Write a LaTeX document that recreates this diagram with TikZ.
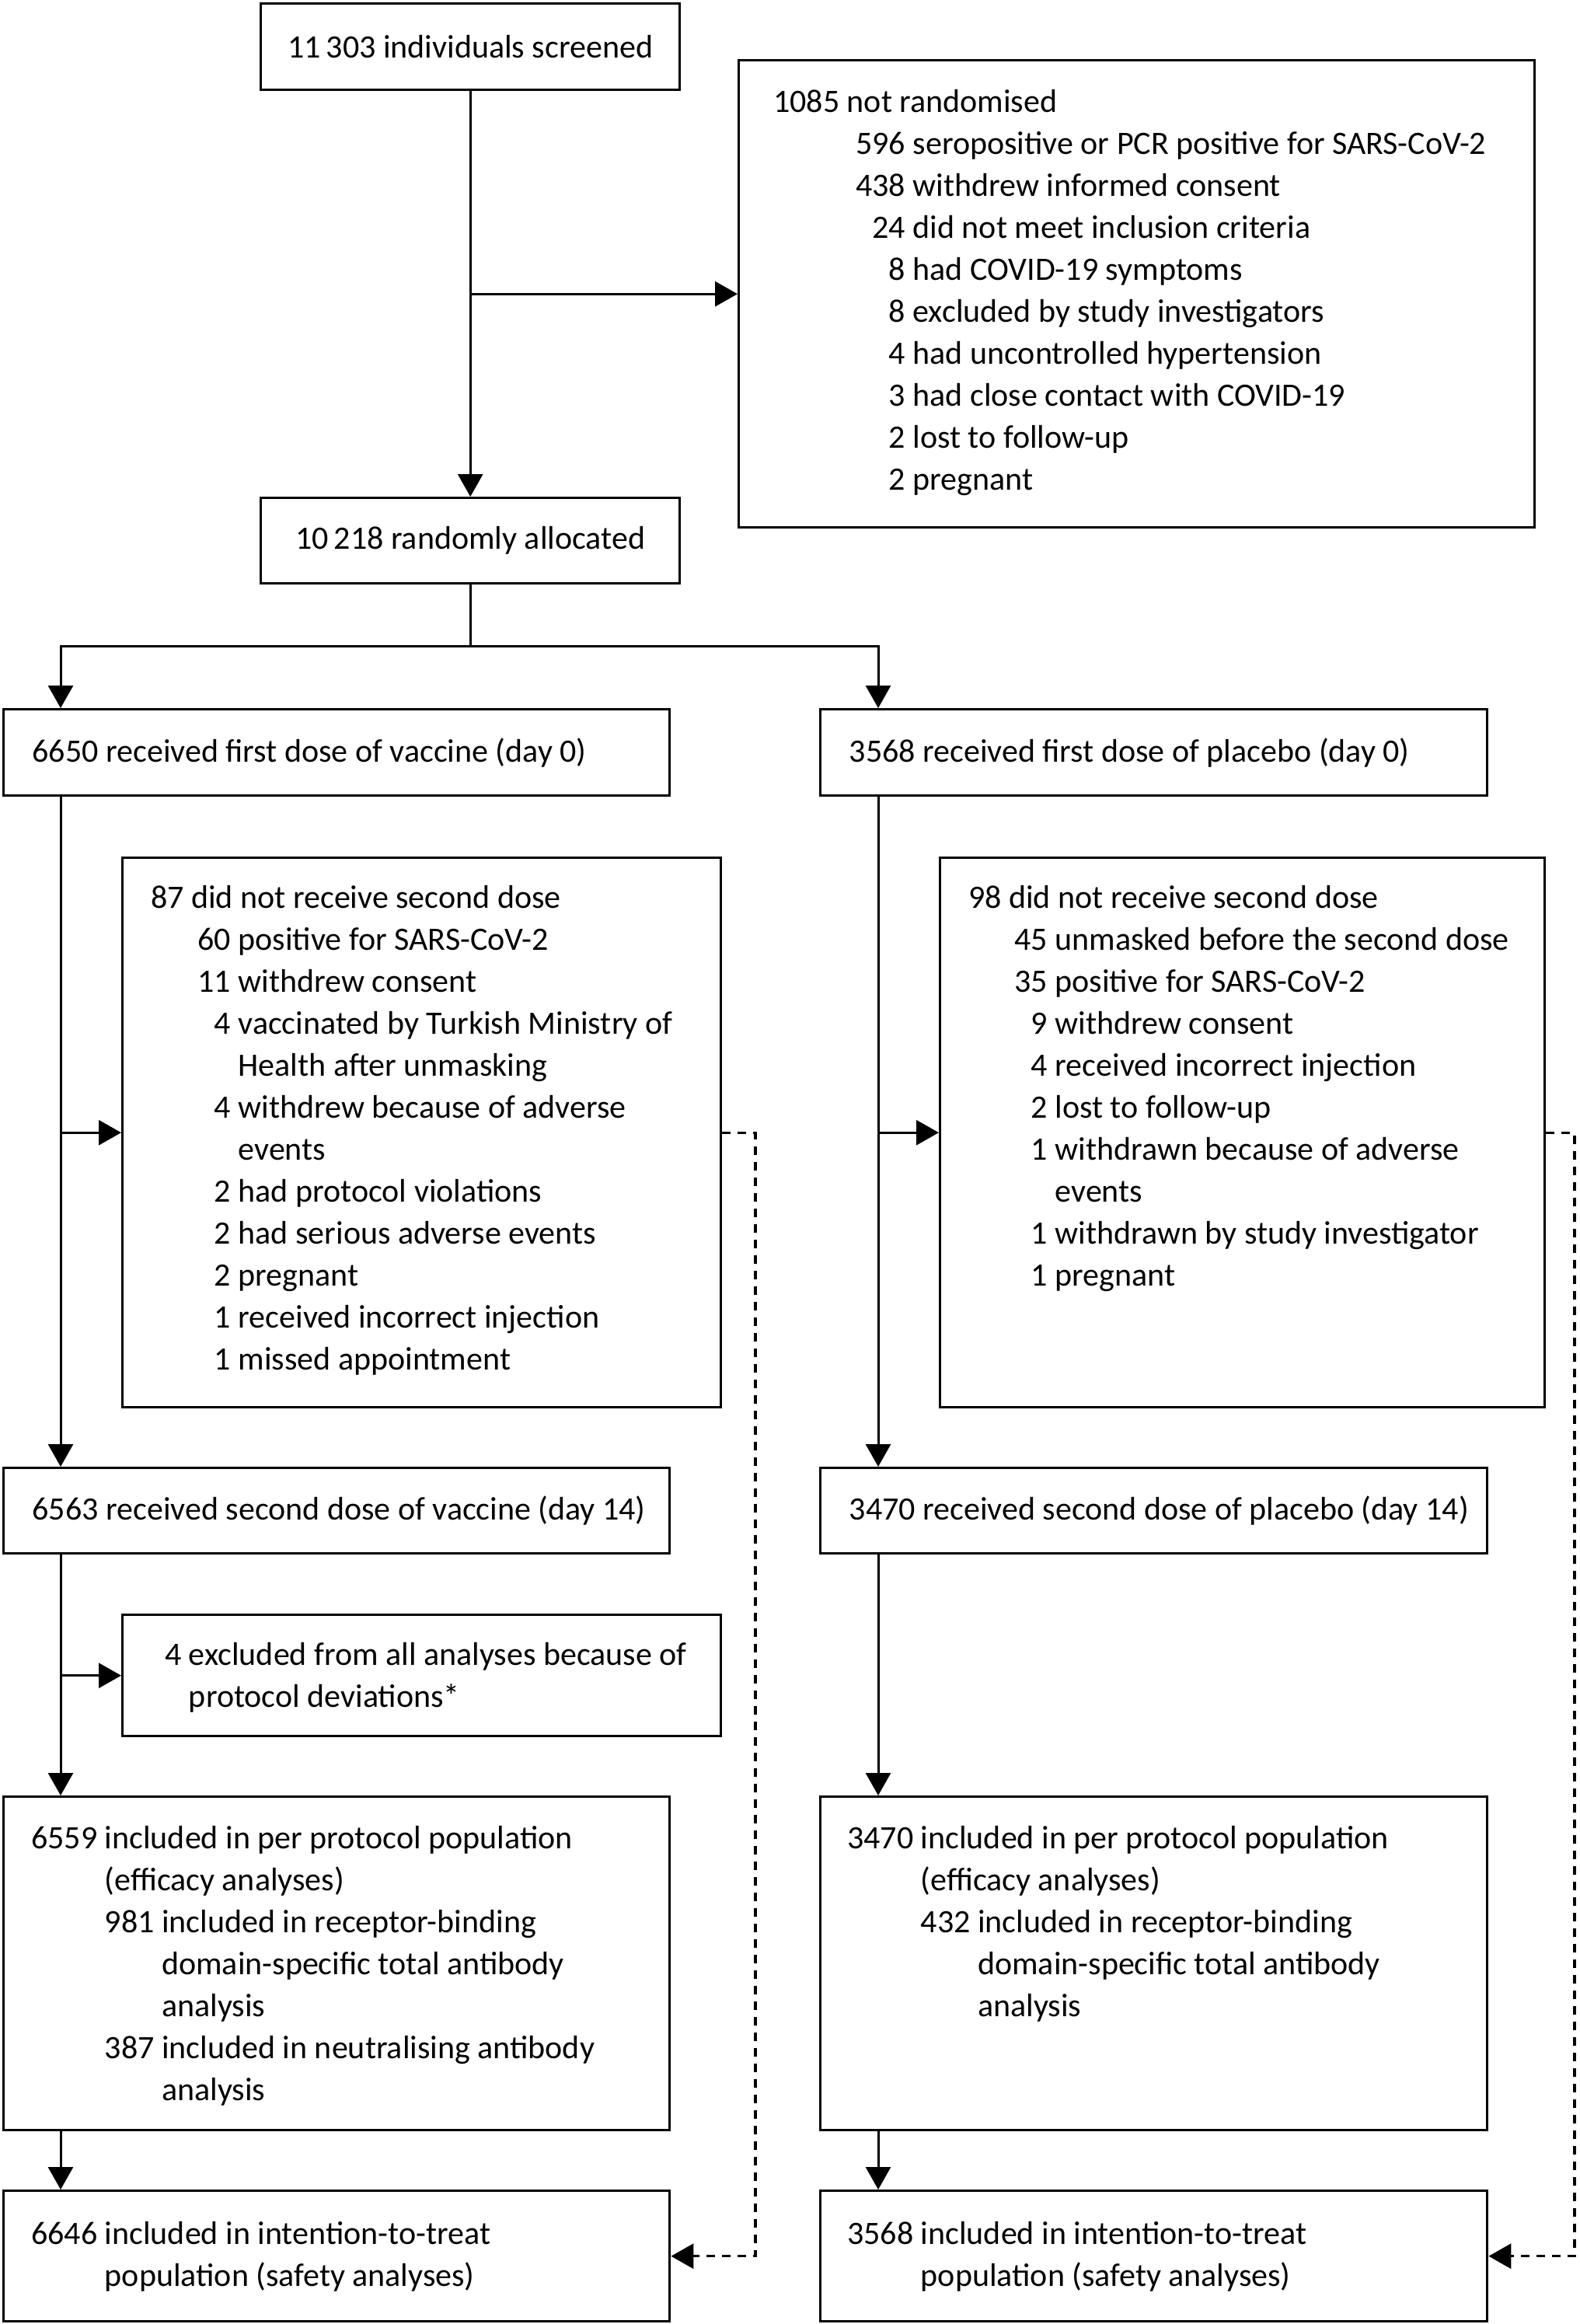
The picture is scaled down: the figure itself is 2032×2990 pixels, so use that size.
\documentclass[tikz,border=0pt]{standalone}
\usepackage{fontspec}
\setmainfont{Carlito}
\usetikzlibrary{arrows.meta}
\newcommand\fs{\fontsize{42}{54}\selectfont}
\newcommand\nbox[2]{\makebox[#1][r]{#2}\ }
\begin{document}
\begin{tikzpicture}[x=1pt,y=-1pt,
  box/.style={draw=black, line width=3.4pt, inner sep=0pt, anchor=north west, font=\fs},
  lbox/.style={box, inner xsep=37pt},
  txt/.style={inner sep=0pt, anchor=north west, align=left, font=\fs},
  conn/.style={line width=3pt, -{Triangle[length=29pt,width=32pt]}},
  plain/.style={line width=3pt},
  dconn/.style={line width=3.2pt, dash pattern=on 11pt off 9pt, -{Triangle[length=29pt,width=32pt]}}
]
\useasboundingbox (0,0) rectangle (2032,2990);

% boxes
\node[box, minimum width=539pt, minimum height=111pt] (A) at (334,3) {11\,303 individuals screened};
\node[box, minimum width=1024pt, minimum height=601pt] (B) at (949,76) {};
\node[box, minimum width=539pt, minimum height=110pt] (C) at (334,639) {10\,218 randomly allocated};
\node[lbox, minimum height=111pt] (D) at (3,911) {\makebox[783pt][l]{6650 received first dose of vaccine (day 0)}};
\node[lbox, minimum height=111pt] (E) at (1054,911) {\makebox[784pt][l]{3568 received first dose of placebo (day 0)}};
\node[box, minimum width=770pt, minimum height=707pt] (G) at (156,1102) {};
\node[box, minimum width=778pt, minimum height=707pt] (I) at (1208,1102) {};
\node[lbox, minimum height=110pt] (F) at (3,1887) {\makebox[783pt][l]{6563 received second dose of vaccine (day 14)}};
\node[lbox, minimum height=110pt] (H) at (1054,1887) {\makebox[784pt][l]{3470 received second dose of placebo (day 14)}};
\node[box, minimum width=770pt, minimum height=156pt] (K) at (156,2076) {};
\node[box, minimum width=857pt, minimum height=429pt] (J) at (3,2310) {};
\node[box, minimum width=858pt, minimum height=429pt] (L) at (1054,2310) {};
\node[box, minimum width=857pt, minimum height=168pt] (M) at (3,2817) {};
\node[box, minimum width=858pt, minimum height=168pt] (N) at (1054,2817) {};

% texts
\node[txt] (Bt) at (995,106) {\strut 1085 not randomised\\
\nbox{170pt}{596}seropositive or PCR positive for SARS-CoV-2\\
\nbox{170pt}{438}withdrew informed consent\\
\nbox{170pt}{24}did not meet inclusion criteria\\
\nbox{170pt}{8}had COVID-19 symptoms\\
\nbox{170pt}{8}excluded by study investigators\\
\nbox{170pt}{4}had uncontrolled hypertension\\
\nbox{170pt}{3}had close contact with COVID-19\\
\nbox{170pt}{2}lost to follow-up\\
\nbox{170pt}{2}pregnant};

\node[txt] (Gt) at (194,1130) {\strut 87 did not receive second dose\\
\nbox{103pt}{60}positive for SARS-CoV-2\\
\nbox{103pt}{11}withdrew consent\\
\nbox{103pt}{4}vaccinated by Turkish Ministry of\\
\nbox{103pt}{}Health after unmasking\\
\nbox{103pt}{4}withdrew because of adverse\\
\nbox{103pt}{}events\\
\nbox{103pt}{2}had protocol violations\\
\nbox{103pt}{2}had serious adverse events\\
\nbox{103pt}{2}pregnant\\
\nbox{103pt}{1}received incorrect injection\\
\nbox{103pt}{1}missed appointment};

\node[txt] (It) at (1246,1130) {\strut 98 did not receive second dose\\
\nbox{102pt}{45}unmasked before the second dose\\
\nbox{102pt}{35}positive for SARS-CoV-2\\
\nbox{102pt}{9}withdrew consent\\
\nbox{102pt}{4}received incorrect injection\\
\nbox{102pt}{2}lost to follow-up\\
\nbox{102pt}{1}withdrawn because of adverse\\
\nbox{102pt}{}events\\
\nbox{102pt}{1}withdrawn by study investigator\\
\nbox{102pt}{1}pregnant};

\node[txt] (Kt) at (212,2104) {\strut 4 excluded from all analyses because of\\
\phantom{4}\ protocol deviations*};

\node[txt] (Jt) at (40,2340) {\strut 6559 included in per protocol population\\
\phantom{6559}\ (efficacy analyses)\\
\phantom{6559}\ 981 included in receptor-binding\\
\phantom{6559}\ \phantom{981}\ domain-specific total antibody\\
\phantom{6559}\ \phantom{981}\ analysis\\
\phantom{6559}\ 387 included in neutralising antibody\\
\phantom{6559}\ \phantom{981}\ analysis};

\node[txt] (Lt) at (1090,2340) {\strut 3470 included in per protocol population\\
\phantom{3470}\ (efficacy analyses)\\
\phantom{3470}\ 432 included in receptor-binding\\
\phantom{3470}\ \phantom{432}\ domain-specific total antibody\\
\phantom{3470}\ \phantom{432}\ analysis};

\node[txt] (Mt) at (40,2849) {\strut 6646 included in intention-to-treat\\
\phantom{6646}\ population (safety analyses)};
\node[txt] (Nt) at (1090,2849) {\strut 3568 included in intention-to-treat\\
\phantom{3568}\ population (safety analyses)};

% helper coordinates
\coordinate (xl) at (78,0);
\coordinate (xr) at (1130,0);
\coordinate (sp) at (0,831);
\coordinate (dl) at (972,0);
\coordinate (dr) at (2026,0);

% connectors
\draw[conn] (A.south) -- (C.north);
\draw[conn] (A.south |- B.west) -- (B.west);
\draw[plain] (C.south) -- (C.south |- sp);
\draw[conn] (C.south |- sp) -| (xl |- D.north);
\draw[conn] (C.south |- sp) -| (xr |- E.north);

\draw[conn] (xl |- D.south) -- (xl |- F.north);
\draw[conn] (xl |- G.west) -- (G.west);
\draw[conn] (xl |- F.south) -- (xl |- J.north);
\draw[conn] (xl |- K.west) -- (K.west);
\draw[conn] (xl |- J.south) -- (xl |- M.north);

\draw[conn] (xr |- E.south) -- (xr |- H.north);
\draw[conn] (xr |- I.west) -- (I.west);
\draw[conn] (xr |- H.south) -- (xr |- L.north);
\draw[conn] (xr |- L.south) -- (xr |- N.north);

\draw[dconn] (G.east) -- (dl |- G.east) -- (dl |- M.east) -- (M.east);
\draw[dconn] (I.east) -- (dr |- I.east) -- (dr |- N.east) -- (N.east);
\end{tikzpicture}
\end{document}
